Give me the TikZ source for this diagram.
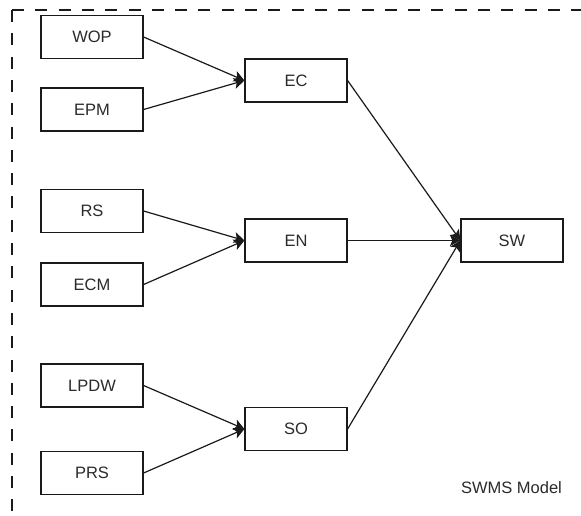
\documentclass[tikz,border=0pt]{standalone}
\usepackage{fontspec}
\setmainfont{Liberation Sans}
\usetikzlibrary{arrows.meta}
\definecolor{inkline}{HTML}{1A1A1A}
\definecolor{inktext}{HTML}{2B2B2B}
\begin{document}
\begin{tikzpicture}[x=1pt,y=-1pt,
  factor/.style={draw=inkline, line width=1.2pt, fill=white,
    minimum width=102pt, minimum height=43pt, inner sep=0pt,
    font=\fontsize{16.5}{19}\selectfont, text=inktext},
  link/.style={draw=inkline, line width=1.2pt,
    -{Stealth[length=10.5pt,width=11pt,inset=2.5pt]}},
  modelframe/.style={draw=inkline, line width=1.1pt, dash pattern=on 12pt off 11.3pt}
]
\useasboundingbox (0,0) rectangle (581,515);
\fill[white] (0,0) rectangle (581,515);

% dashed frame of the model (open to the right and bottom)
\coordinate (corner) at (12,10);
\coordinate (topend) at (581,10);
\coordinate (leftend) at (12,515);
\draw[modelframe] (corner) -- (topend);
\draw[modelframe] (corner) -- (leftend);

% first group
\node[factor] (wop) at (92,37) {WOP};
\node[factor] (epm) at (92,109.5) {EPM};
\node[factor] (ec) at (296,80.5) {EC};

% second group
\node[factor] (rs) at (92,211) {RS};
\node[factor] (ecm) at (92,284.5) {ECM};
\node[factor] (en) at (296,240.5) {EN};

% third group
\node[factor] (lpdw) at (92,385.5) {LPDW};
\node[factor] (prs) at (92,473) {PRS};
\node[factor] (so) at (296,429) {SO};

% outcome
\node[factor] (sw) at (512,240.5) {SW};

\node[font=\fontsize{16.5}{19}\selectfont, text=inktext] (title) at (511.5,488) {SWMS Model};

% connectors
\draw[link] (wop.east) -- (ec.west);
\draw[link] (epm.east) -- (ec.west);
\draw[link] (rs.east) -- (en.west);
\draw[link] (ecm.east) -- (en.west);
\draw[link] (lpdw.east) -- (so.west);
\draw[link] (prs.east) -- (so.west);
\draw[link] (ec.east) -- (sw.west);
\draw[link] (en.east) -- (sw.west);
\draw[link] (so.east) -- (sw.west);
\end{tikzpicture}
\end{document}
